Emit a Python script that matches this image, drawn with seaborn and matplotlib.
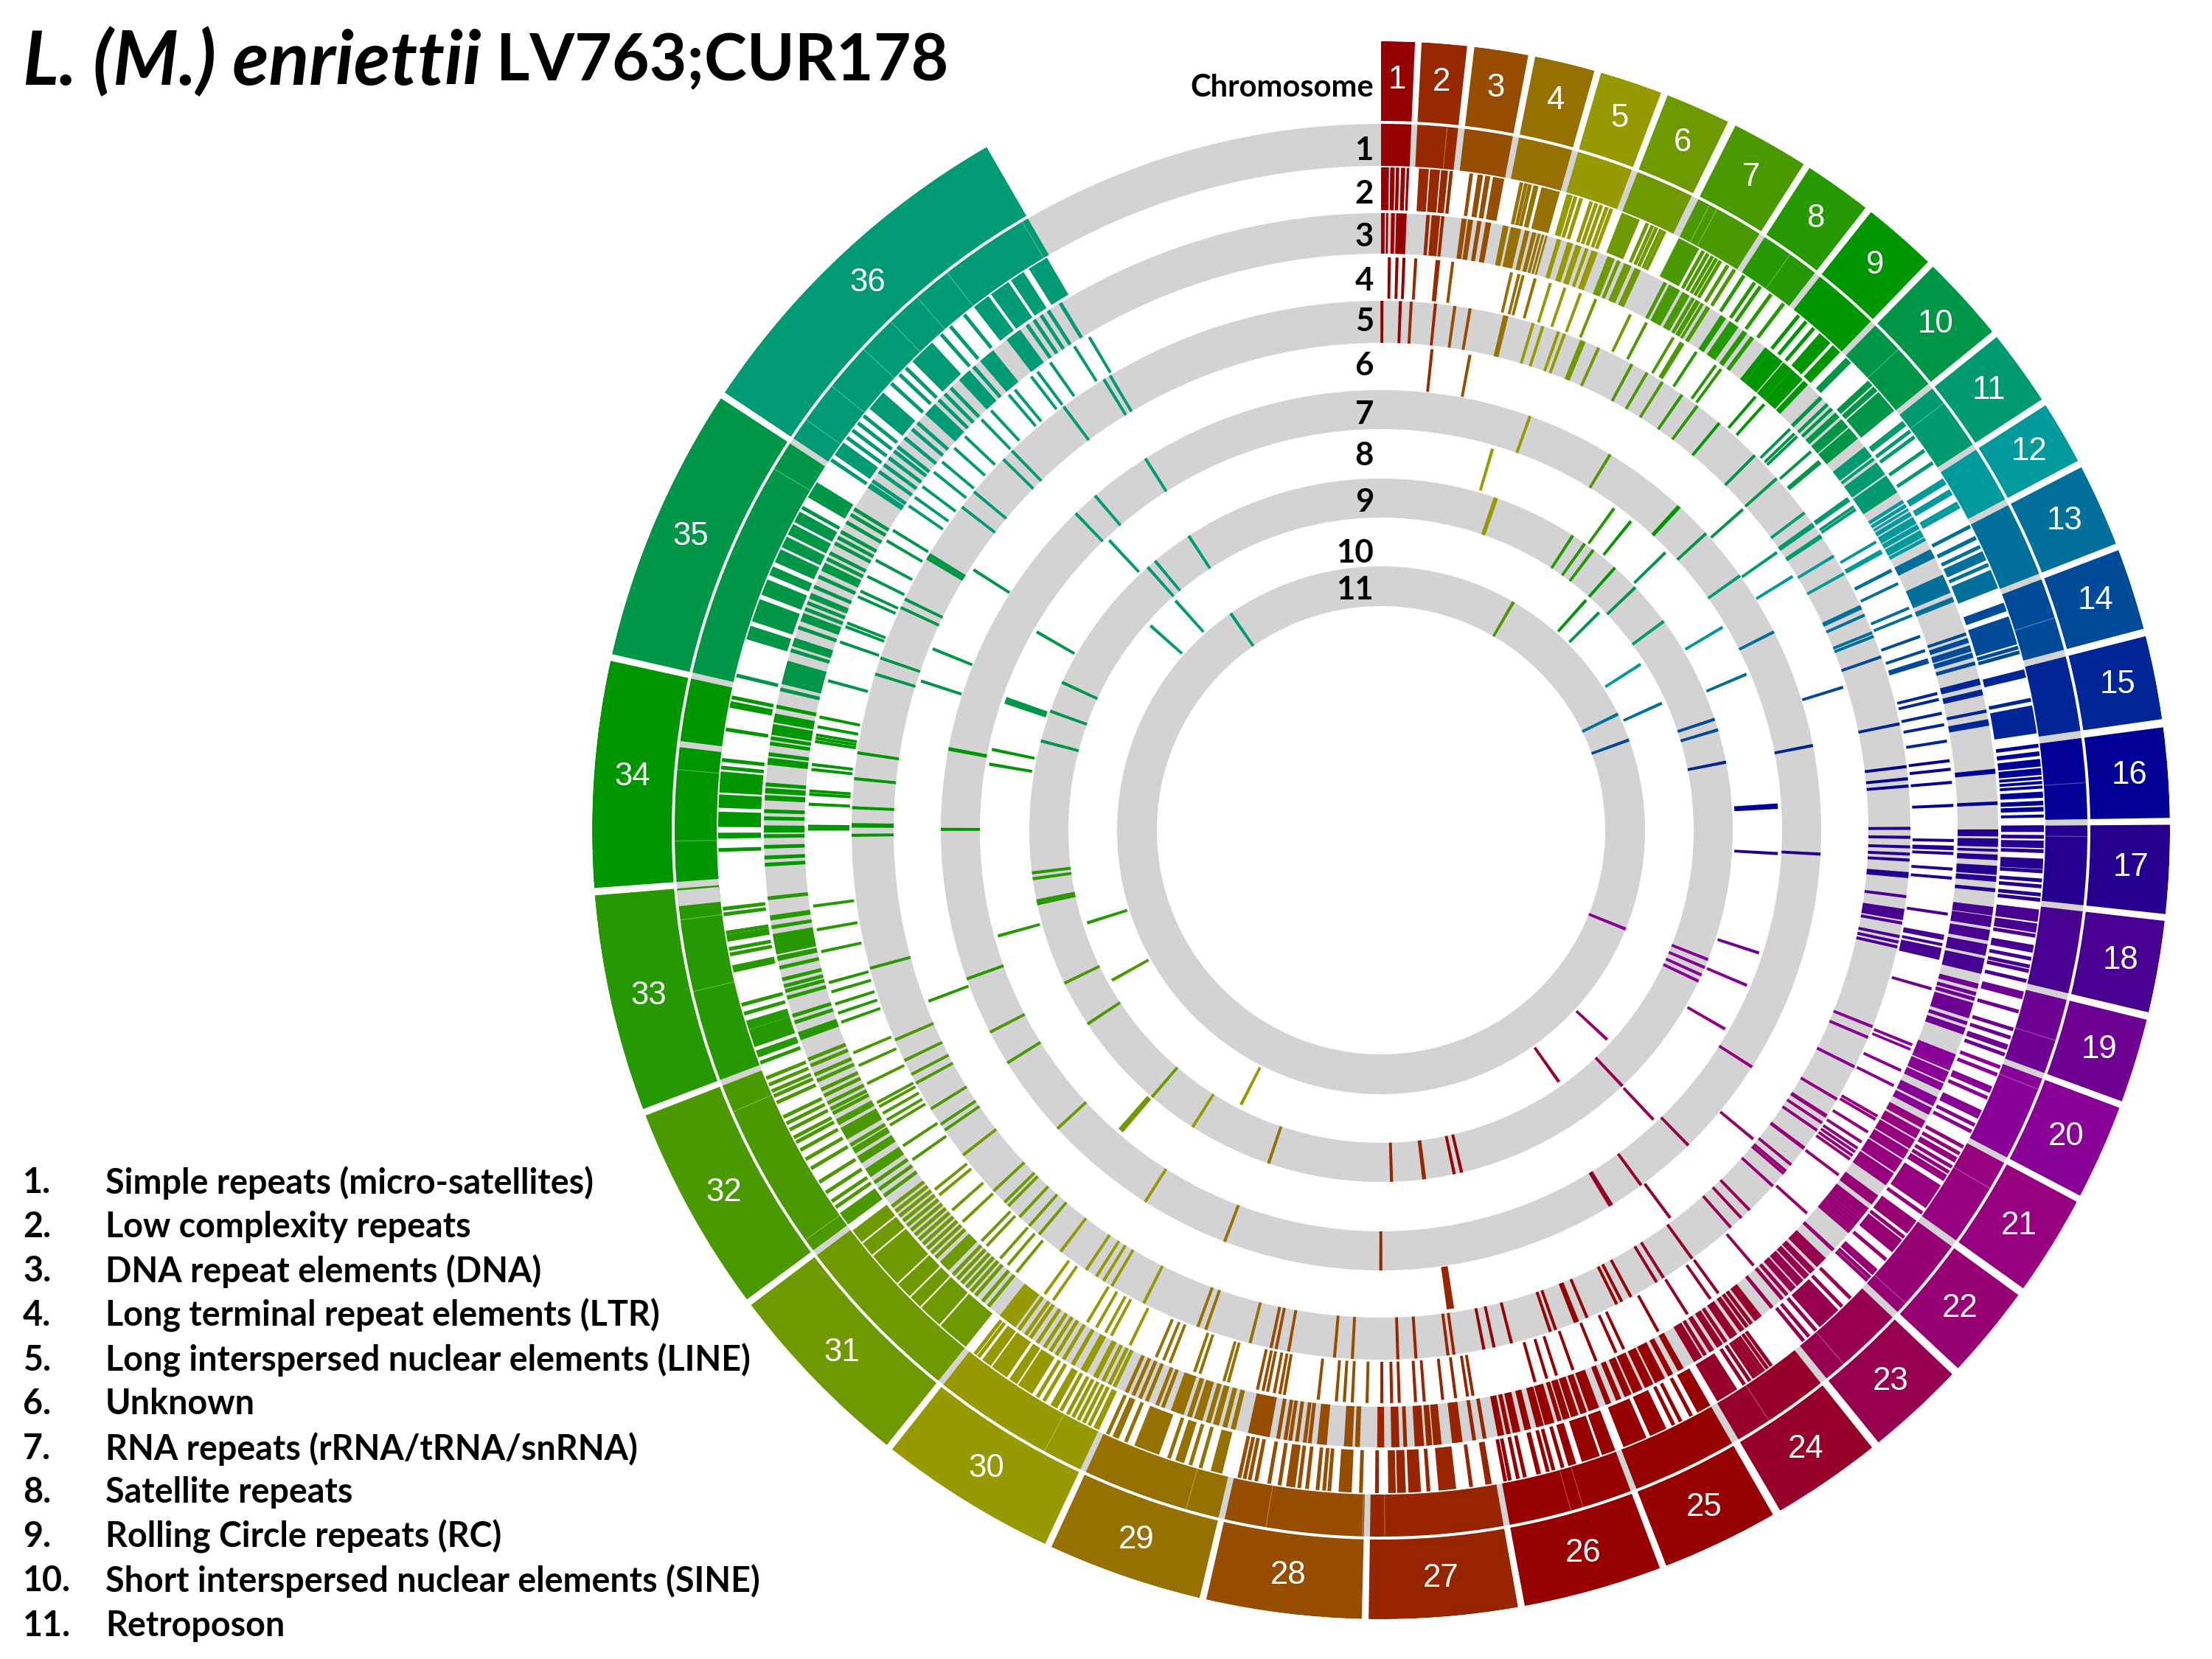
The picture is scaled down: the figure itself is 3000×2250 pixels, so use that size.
import numpy as np
import matplotlib
matplotlib.use('Agg')
import matplotlib.pyplot as plt
import seaborn as sns

# chromosome spans on the circle (degrees clockwise from the top)
chr_start = np.array([0, 2.95, 6.8, 11.27, 16.2, 21.3, 26.7, 32.9, 38.4, 44.4, 51.3, 57.4,
                      62.6, 69.2, 75.76, 82.5, 89.6, 96.6, 103.9, 110.6, 118.1, 126.1, 133.6, 141.5,
                      150.2, 159.3, 170.0, 181.4, 193.3, 205.2, 218.8, 233.5, 249.3, 265.8, 282.9, 303.7])
chr_end = np.array([2.47, 6.27, 10.76, 15.7, 20.8, 26.1, 32.4, 37.9, 43.9, 50.8, 56.9, 62.07,
                    68.7, 75.2, 81.9, 89.1, 96.1, 103.35, 110.1, 117.6, 125.5, 133.0, 140.9, 149.6,
                    158.8, 169.5, 180.9, 192.8, 204.7, 218.3, 233.0, 248.8, 265.26, 282.4, 303.2, 330.0])
chr_colors = ['#960000', '#962900', '#964D00', '#967000', '#969900', '#6F9900', '#4B9900', '#269900',
              '#009600', '#009648', '#009A70', '#009A9C', '#00709A', '#004B99', '#002596', '#000096',
              '#250090', '#480090', '#6E0094', '#880096', '#96007E', '#960072', '#96004E', '#960028',
              '#960000', '#960000', '#962500', '#964D00', '#967000', '#969900', '#6F9900', '#4B9900',
              '#269900', '#009600', '#009648', '#009A74']

# radial extent of every band, in picture pixels from the centre
chr_band = (962, 1070)
band_outer = [958, 899, 837, 777, 718, 656, 597, 539, 477, 418, 358]
band_inner = [901, 841, 782, 721, 661, 598, 544, 480, 424, 361, 304]
grey_bands = [0, 2, 4, 6, 8, 10]
mark_px = [0, 5.0, 5.0, 4.0, 4.0, 4.0, 4.0, 4.0, 4.0, 4.0, 4.0]

ring_names = ['1', '2', '3', '4', '5', '6', '7', '8', '9', '10', '11']
ring_label_y = [201, 260, 318, 378, 433, 493, 559, 615, 678, 747, 797]
legend_labels = ['Simple repeats (micro-satellites)', 'Low complexity repeats', 'DNA repeat elements (DNA)',
                 'Long terminal repeat elements (LTR)', 'Long interspersed nuclear elements (LINE)', 'Unknown',
                 'RNA repeats (rRNA/tRNA/snRNA)', 'Satellite repeats', 'Rolling Circle repeats (RC)',
                 'Short interspersed nuclear elements (SINE)', 'Retroposon']
legend_y = [1602, 1662, 1722, 1782, 1843, 1902, 1963, 2022, 2082, 2142, 2203]

# positions below are chromosome.fraction, so 7.35 is 35% along chromosome 7
ring1_cuts = [(33.91, 33.99), (34.66, 34.69)]
ring1_slits = [2.73, 7.18, 7.30, 8.50, 10.42, 11.27, 14.55, 16.55, 17.14, 19.55, 20.13, 21.32, 22.86, 23.75,
               24.64, 26.40, 26.50, 27.89, 28.70, 28.01, 29.24, 30.25, 32.07, 32.85, 33.47, 33.84, 34.20,
               34.55, 35.88, 36.07, 36.20, 36.35, 36.47, 36.58, 36.70, 36.98]

ring2_blocks = [(1.00, 1.28), (1.32, 1.48), (1.52, 1.64), (1.70, 1.85), (1.90, 1.99),
                (2.10, 2.36), (2.39, 2.65), (2.68, 2.86), (2.90, 2.99), (3.22, 3.30), (3.40, 3.52),
                (3.57, 3.68), (3.74, 3.99), (4.46, 4.56), (4.62, 4.99), (6.00, 6.35), (7.00, 7.35),
                (9.55, 9.78), (9.83, 9.99), (10.02, 10.12), (10.45, 10.54), (10.56, 10.64), (10.66, 10.99),
                (12.35, 12.47), (13.17, 13.23), (13.41, 13.55), (13.70, 13.98), (14.12, 14.25), (14.33, 14.75),
                (15.03, 15.15), (15.55, 15.95), (16.00, 16.05), (16.10, 16.16), (16.20, 16.30), (16.32, 16.41),
                (16.43, 16.47), (16.49, 16.53), (16.55, 16.59), (16.63, 16.71), (16.75, 16.81), (16.83, 16.89),
                (16.93, 16.97), (17.20, 17.30), (17.44, 17.58), (18.04, 18.20), (18.22, 18.34), (18.50, 18.60),
                (19.03, 19.14), (19.80, 19.88), (21.20, 21.27), (21.58, 21.90), (22.00, 22.20), (22.30, 22.50),
                (22.78, 22.88), (23.38, 23.68), (24.74, 24.99), (25.00, 25.15), (25.50, 25.68), (25.72, 25.97),
                (26.00, 26.12), (26.14, 26.30), (26.35, 26.42), (26.66, 26.70), (27.32, 27.46), (27.60, 27.70),
                (27.72, 27.79), (27.80, 27.86), (28.10, 28.20), (28.53, 28.60), (29.05, 29.14), (29.35, 29.42),
                (29.55, 29.75), (29.88, 29.93), (30.00, 30.04), (30.31, 30.36), (30.50, 30.61), (30.62, 30.68),
                (30.70, 30.82), (30.83, 30.90),
                (31.00, 31.20), (31.21, 31.36), (31.37, 31.45), (31.46, 31.56), (31.57, 31.79), (31.80, 31.89),
                (31.90, 31.99), (32.00, 32.08), (33.04, 33.08), (33.10, 33.20), (33.20, 33.25), (33.52, 33.56),
                (33.69, 33.73), (34.21, 34.24), (34.27, 34.35), (34.37, 34.44), (34.45, 34.52), (34.51, 34.56),
                (35.19, 35.25), (35.27, 35.37), (35.39, 35.46), (35.48, 35.52), (35.54, 35.60), (35.61, 35.66),
                (35.67, 35.72), (35.73, 35.78), (35.85, 35.925), (36.03, 36.08), (36.22, 36.29), (36.43, 36.52),
                (36.70, 36.76), (36.77, 36.84), (36.85, 36.90), (36.92, 36.99)]
ring2_marks = [4.22, 4.31, 4.39, 5.05, 5.10, 5.19, 5.30, 5.50, 5.60, 5.70, 5.81, 5.90, 6.50, 6.60, 6.68, 6.77, 6.84,
               7.42, 7.50, 7.58, 7.65, 7.72, 7.85, 7.97, 8.06, 8.28, 8.40, 8.63, 8.90, 9.12, 9.27, 9.43,
               11.13, 11.17, 11.30, 11.41, 11.67, 11.90, 12.15, 12.21, 12.65, 12.72, 13.02, 13.34, 13.62, 14.80, 14.87,
               15.47, 17.02, 17.06, 17.15, 17.34, 17.61, 17.73, 17.81, 17.92, 17.99, 18.38, 18.68, 18.78, 18.84, 18.97,
               19.32, 19.58, 19.70, 19.95, 20.05, 20.15, 20.33, 20.37, 20.46, 20.65, 20.68, 20.72, 20.83, 20.92,
               21.06, 21.15, 21.33, 21.40, 21.46, 21.50, 21.97, 22.26, 22.62, 22.92, 22.97, 23.18, 23.32, 23.74, 23.85,
               23.93, 24.30, 24.35, 24.40, 24.44, 24.48, 24.52, 24.58, 24.65, 25.22, 25.34, 25.42, 26.47, 26.55, 26.60,
               26.80, 26.86, 26.93, 26.97, 27.05, 27.07, 27.20, 27.54, 27.95, 28.03, 28.27, 28.31, 28.36, 28.44, 28.50,
               28.65, 28.73, 28.83, 28.88, 28.92, 28.96, 29.22, 29.30, 29.47, 29.82, 29.97, 30.07, 30.11, 30.15, 30.19,
               30.23, 30.28, 30.41, 30.46, 30.93, 30.96, 32.12, 32.16, 32.22, 32.29, 32.38, 32.44, 32.50, 32.55, 32.58, 32.63,
               32.67, 32.71, 32.80, 32.84, 32.87, 32.91, 32.95, 33.01, 33.29, 33.34, 33.62, 33.65, 33.74, 33.84, 33.87,
               34.15, 34.58, 34.62, 34.78, 34.905, 34.92, 34.95, 35.03, 35.80,
               36.01, 36.10, 36.13, 36.16, 36.19, 36.33, 36.37, 36.40, 36.56, 36.60, 36.66]

ring3_blocks = [(1.00, 1.14), (1.19, 1.27), (1.38, 1.52), (1.57, 1.97), (2.38, 2.48), (2.53, 2.77), (2.80, 2.89),
                (3.18, 3.30), (3.33, 3.45), (3.55, 3.65), (3.75, 3.88), (4.03, 4.15), (4.20, 4.42), (4.50, 4.60),
                (4.66, 4.75), (4.78, 4.84), (4.87, 4.92), (4.95, 4.99), (5.08, 5.17), (5.30, 5.42), (5.48, 5.60),
                (5.68, 5.75), (5.82, 5.95), (6.05, 6.20), (6.25, 6.32), (6.40, 6.55), (6.62, 6.75), (7.10, 7.16),
                (7.20, 7.40), (7.45, 7.58), (7.62, 7.68), (7.70, 7.78), (7.80, 7.85), (7.90, 7.97), (8.10, 8.22),
                (8.30, 8.50), (8.60, 8.70), (8.78, 8.86), (9.02, 9.12), (9.12, 9.40), (9.42, 9.60), (9.60, 9.85),
                (9.88, 9.98), (10.14, 10.20), (10.28, 10.33), (10.37, 10.42), (10.47, 10.56), (10.60, 10.75),
                (10.77, 10.97), (11.05, 11.25), (11.28, 11.33), (11.38, 11.62), (11.65, 11.98), (12.05, 12.12),
                (12.15, 12.22), (12.25, 12.30), (12.33, 12.42), (12.45, 12.60), (12.62, 12.72), (12.75, 12.90),
                (12.92, 12.99), (13.05, 13.20), (13.48, 13.78), (13.85, 13.93), (14.35, 14.40), (14.44, 14.52),
                (14.56, 14.66), (14.68, 14.76), (14.82, 14.88), (15.00, 15.10), (15.17, 15.26), (15.48, 15.53),
                (15.63, 15.73), (16.27, 16.34), (16.73, 16.78), (17.05, 17.15), (17.18, 17.30), (17.33, 17.37),
                (17.41, 17.49), (17.57, 17.70), (17.72, 17.80), (18.08, 18.20), (18.21, 18.36), (18.40, 18.55),
                (18.60, 18.76), (18.80, 18.97), (19.08, 19.16), (19.38, 19.62), (20.10, 20.30), (20.30, 20.33),
                (20.35, 20.50), (20.52, 20.62), (20.72, 20.85), (20.88, 20.98), (21.00, 21.10), (21.13, 21.25),
                (21.27, 21.40), (21.42, 21.55), (21.57, 21.75), (21.77, 21.95), (22.03, 22.18), (23.04, 23.20),
                (23.24, 23.32), (23.34, 23.42), (23.44, 23.55), (23.57, 23.66), (24.05, 24.15), (24.30, 24.36),
                (24.40, 24.50), (24.60, 24.68), (24.72, 24.78), (24.88, 24.99), (25.05, 25.12), (25.18, 25.24),
                (25.28, 25.40), (25.42, 25.52), (25.55, 25.66), (25.68, 25.76), (25.80, 25.86), (25.92, 25.98),
                (26.00, 26.10), (26.12, 26.18), (26.20, 26.27), (26.36, 26.40), (26.43, 26.52), (26.53, 26.60),
                (26.65, 26.71), (26.75, 26.82), (26.84, 26.88), (26.90, 26.96), (27.22, 27.31), (27.40, 27.47),
                (27.48, 27.53), (27.55, 27.63), (27.76, 27.83), (27.89, 27.95), (28.05, 28.09), (28.11, 28.18),
                (28.32, 28.40), (28.55, 28.58), (28.79, 28.97), (29.03, 29.07), (29.10, 29.14), (29.17, 29.22),
                (29.24, 29.28), (29.31, 29.38), (29.40, 29.44), (29.47, 29.58), (30.16, 30.20), (30.25, 30.30),
                (30.35, 30.38), (30.85, 30.99), (31.40, 31.48), (32.15, 32.21), (32.25, 32.30), (32.32, 32.36),
                (32.42, 32.50), (32.52, 32.56), (33.05, 33.10), (33.53, 33.56), (33.57, 33.69), (33.77, 33.80),
                (34.24, 34.28), (34.42, 34.45), (34.46, 34.49), (34.62, 34.66), (34.81, 34.85), (34.86, 34.91),
                (35.04, 35.15), (35.22, 35.26), (35.34, 35.38), (35.59, 35.63), (36.00, 36.02), (36.33, 36.38),
                (36.50, 36.55), (36.60, 36.66), (36.72, 36.78)]
ring3_marks = [17.92, 18.99, 19.24, 19.32, 19.70, 19.80, 19.85, 22.27, 22.31, 22.35, 22.40, 22.45, 22.50, 22.55, 22.60,
               22.65, 22.98, 23.72, 23.80, 23.97, 24.20, 24.26, 24.56, 24.84, 26.30, 26.33, 27.03, 27.12, 27.71, 28.46, 28.50, 28.62,
               28.66, 28.72, 29.65, 29.70, 29.79, 29.85, 29.91, 29.97, 30.03, 30.07, 30.12, 30.44, 30.50, 30.55, 30.60,
               30.66, 30.72, 30.76, 30.82, 31.05, 31.10, 31.16, 31.20, 31.24, 31.28, 31.32, 31.36, 31.52, 31.56, 31.60,
               31.64, 31.68, 31.72, 31.76, 31.80, 31.84, 31.88, 31.92, 31.96, 32.01, 32.06, 32.11, 32.38, 32.60, 32.63,
               32.67, 32.72, 32.76, 32.82, 32.86, 32.92, 32.96, 33.16, 33.20, 33.31, 33.35, 33.38, 33.42, 33.49, 33.73,
               33.90, 34.06, 34.10, 34.16, 34.22, 34.32, 34.36, 34.51, 34.68, 34.74, 34.77, 34.80, 34.95, 35.015, 35.20,
               35.31, 35.40, 35.43, 35.46, 35.47, 35.51, 35.56, 35.65, 35.68, 35.73, 35.76, 35.79, 35.84, 35.88, 35.91,
               36.03, 36.07, 36.10, 36.13, 36.16, 36.18, 36.22, 36.26, 36.29, 36.40, 36.43, 36.46, 36.57, 36.81, 36.84,
               36.87, 36.90, 36.95]

ring4_blocks = [(2.76, 2.90), (17.30, 17.37), (18.58, 18.66), (18.78, 18.96), (13.04, 13.10), (20.25, 20.29)]
ring4_marks = [1.34, 1.65, 1.93, 2.16, 3.10, 4.43, 4.60, 4.70, 4.98, 5.22, 5.55, 5.91, 6.15, 6.94, 7.16, 7.70, 7.86, 7.90,
               8.10, 8.57, 8.70, 9.44, 9.65, 10.18, 10.28, 10.34, 10.66, 10.86, 10.89, 11.59, 11.63, 11.77, 11.83,
               12.51, 12.73, 12.77, 13.31, 13.75, 13.88, 14.17, 14.42, 14.58, 14.62, 15.07, 15.17, 15.40, 15.59, 15.86,
               16.08, 16.21, 16.41, 16.76, 17.22, 17.42, 17.66, 17.80, 18.27, 18.73, 19.35, 20.20, 20.60, 20.84,
               21.25, 21.30, 21.50, 21.66, 21.76, 21.82, 21.88, 21.94, 22.13, 22.85, 23.80, 24.30, 24.42, 24.76,
               25.10, 25.55, 25.65, 25.90, 26.11, 26.28, 26.38, 26.50, 27.07, 27.12, 27.23, 27.35, 27.52, 27.60, 27.75,
               27.82, 27.91, 28.00, 28.13, 28.20, 28.27, 28.43, 28.73, 28.77, 28.82, 28.88, 28.92, 28.97, 29.19, 29.23,
               29.45, 29.50, 29.73, 29.79, 29.86, 30.06, 30.22, 30.27, 30.35, 30.43, 30.74, 30.82, 31.05, 31.13, 31.20,
               31.33, 31.38, 31.57, 31.68, 31.82, 31.87, 32.09, 32.20, 32.36, 32.40, 32.45, 32.50, 32.53, 32.67, 32.80,
               32.89, 33.07, 33.13, 33.19, 33.27, 33.33, 33.53, 33.67, 33.82, 34.26, 34.277, 34.41, 34.47, 34.49, 34.62,
               34.65, 34.79, 34.81, 34.83, 34.88, 34.94, 35.11, 35.31, 35.39, 35.41, 35.55, 35.58, 35.66, 35.75, 35.86,
               35.92, 36.03, 36.07, 36.12, 36.19, 36.24, 36.31, 36.37, 36.46, 36.51, 36.60, 36.63, 36.71, 36.74, 36.80,
               36.91, 36.977]

ring5_blocks = [(4.47, 4.60), (6.17, 6.30), (17.76, 17.86), (18.29, 18.47), (21.59, 21.65), (22.09, 22.15), (35.88, 35.92)]
ring5_marks = [1.04, 1.85, 2.10, 2.89, 3.31, 3.73, 5.11, 5.35, 5.74, 5.89, 6.62, 7.28, 7.61, 7.95, 8.35, 8.76, 9.24,
               10.08, 10.62, 11.33, 11.60, 11.64, 11.87, 11.90, 12.30, 12.77, 13.39, 13.42, 13.56, 13.90, 13.97, 14.28,
               15.43, 16.09, 16.29, 16.41, 17.03, 17.18, 17.34, 17.46, 17.56, 18.09, 18.52, 18.74, 18.83, 18.91,
               20.17, 20.35, 20.85, 21.33, 21.74, 21.87, 22.45, 22.58, 22.63, 22.89, 23.31, 23.48, 23.69,
               24.31, 24.77, 24.88, 25.19, 25.32, 25.39, 25.80, 25.93, 25.96, 26.14, 26.20, 26.63, 26.82, 26.93,
               27.19, 27.25, 27.57, 27.75, 28.15, 28.32, 28.76, 28.88, 28.93, 29.09, 29.53, 29.61, 30.11, 30.41, 30.49,
               30.56, 30.66, 30.92, 31.10, 31.20, 31.30, 31.42, 31.46, 31.58, 31.94, 32.13, 32.18, 32.31, 32.52, 32.59,
               32.70, 32.86, 33.35, 34.22, 34.28, 34.29, 34.40, 34.59, 34.76, 35.21, 35.30, 35.59, 35.64,
               36.15, 36.23, 36.41, 36.46, 36.74, 36.94, 36.97]

ring6_blocks = [(2.88, 2.99), (27.12, 27.20)]
ring6_marks = [3.96, 10.63, 11.65, 12.20, 14.60, 22.52, 24.22, 33.00, 35.25, 35.45, 35.97]
ring7_blocks = [(9.72, 9.82), (34.88, 34.91)]
ring7_marks = [5.78, 7.82, 10.50, 11.60, 13.10, 15.51, 17.54, 21.60, 23.29, 24.28, 24.85, 24.88, 27.92, 29.66, 30.55,
               31.60, 32.30, 32.60, 33.06, 34.26, 36.47, 36.60, 36.91]
ring8_blocks = [(31.12, 31.18), (35.28, 35.33), (16.55, 16.67)]
ring8_marks = [5.02, 8.60, 9.10, 10.20, 12.40, 13.70, 17.58, 19.66, 20.34, 21.26, 23.43, 33.33, 34.83, 34.96, 35.84, 36.50]
ring9_blocks = [(27.24, 27.30)]
ring9_marks = [5.60, 5.65, 8.03, 8.50, 8.85, 9.60, 10.30, 11.40, 14.40, 14.70, 15.50, 20.14, 20.34, 20.53, 20.69, 23.42,
               26.73, 26.85, 27.76, 29.47, 30.55, 31.13, 32.20, 32.70, 33.54, 33.57, 33.80, 33.86, 35.09, 35.34, 35.59,
               36.56, 36.62, 36.88]
ring10_marks = [9.60, 10.10, 12.00, 13.50, 22.97, 24.40, 30.14, 32.48, 33.20, 36.30, 36.55]
ring11_marks = [7.60, 13.21, 14.13, 20.20, 36.82]

blocks_by_ring = [[], ring2_blocks, ring3_blocks, ring4_blocks, ring5_blocks, ring6_blocks, ring7_blocks,
                  ring8_blocks, ring9_blocks, [], []]
marks_by_ring = [[], ring2_marks, ring3_marks, ring4_marks, ring5_marks, ring6_marks, ring7_marks,
                 ring8_marks, ring9_marks, ring10_marks, ring11_marks]


def to_rad(pos):
    pos = np.asarray(pos, dtype=float)
    whole = np.floor(pos).astype(int)
    idx = whole - 1
    deg = chr_start[idx] + (pos - whole) * (chr_end[idx] - chr_start[idx])
    return np.deg2rad(deg)


sns.set_theme(style='white')
plt.rcParams['font.family'] = ['Lato', 'DejaVu Sans']
palette = sns.color_palette(chr_colors)

W, H = 3000, 2250
fig = plt.figure(figsize=(10, 7.5), dpi=300, facecolor='white')
cx, cy, rmax = 1873, 1126, 1070
ax = fig.add_axes([(cx - rmax) / W, (H - cy - rmax) / H, 2 * rmax / W, 2 * rmax / H], polar=True)
ax.set_theta_zero_location('N')
ax.set_theta_direction(-1)
ax.set_ylim(0, rmax)
ax.set_axis_off()

# grey tracks
for b in grey_bands:
    ax.bar(np.pi, band_outer[b] - band_inner[b], width=2 * np.pi, bottom=band_inner[b],
           color='#D3D3D3', linewidth=0, zorder=1)

# outer chromosome band and the labels on it
start_rad = np.deg2rad(chr_start)
span_rad = np.deg2rad(chr_end - chr_start)
ax.bar(start_rad, chr_band[1] - chr_band[0], width=span_rad, bottom=chr_band[0], align='edge',
       color=palette, linewidth=0, zorder=2)
for i, (th, sp) in enumerate(zip(start_rad, span_rad)):
    ax.text(th + sp / 2, 1018, str(i + 1), color='white', ha='center', va='center',
            fontsize=10.5, family='Liberation Sans', zorder=5)

# track 1 is nearly the whole chromosome
ax.bar(start_rad, band_outer[0] - band_inner[0], width=span_rad, bottom=band_inner[0], align='edge',
       color=palette, linewidth=0, zorder=2)
for a, b in ring1_cuts:
    ax.bar(to_rad(a), band_outer[0] - band_inner[0], width=to_rad(b) - to_rad(a), bottom=band_inner[0],
           align='edge', color='#D3D3D3', linewidth=0, zorder=3)
slit_th = to_rad(ring1_slits)
ax.bar(slit_th, band_outer[0] - band_inner[0], width=1.2 / 930, bottom=band_inner[0],
       color='white', alpha=0.3, linewidth=0, zorder=3)

# repeat tracks
for k in range(1, 11):
    r0, r1 = band_inner[k], band_outer[k]
    blocks = blocks_by_ring[k]
    if blocks:
        a = to_rad([p[0] for p in blocks])
        b = to_rad([p[1] for p in blocks])
        cols = [palette[int(p[0]) - 1] for p in blocks]
        ax.bar(a, r1 - r0, width=b - a, bottom=r0, align='edge', color=cols, linewidth=0, zorder=4)
    marks = marks_by_ring[k]
    th = to_rad(marks)
    cols = [palette[int(p) - 1] for p in marks]
    ax.bar(th, r1 - r0, width=mark_px[k] / ((r0 + r1) / 2), bottom=r0, color=cols, linewidth=0, zorder=4)

# text around the plot, placed in picture pixels
def px_text(x, y, s, **kw):
    return fig.text(x / W, 1 - y / H, s, va='center', **kw)


px_text(31, 84, 'L. (M.) enriettii', fontsize=24.3, style='italic', fontweight='bold', color='black')
px_text(673, 84, 'LV763;CUR178', fontsize=21, fontweight='bold', color='black')
px_text(1863, 119, 'Chromosome', fontsize=10, fontweight='bold', ha='right', color='black')
for name, y in zip(ring_names, ring_label_y):
    px_text(1863, y + 3, name, fontsize=10.5, fontweight='bold', ha='right', color='black')
for i, (lab, y) in enumerate(zip(legend_labels, legend_y)):
    px_text(31, y + 2, f'{i + 1}.', fontsize=11.2, fontweight='bold', color='black')
    px_text(143, y + 2, lab, fontsize=11.2, fontweight='bold', color='black')

fig.savefig('out.png', dpi=300, facecolor='white')
